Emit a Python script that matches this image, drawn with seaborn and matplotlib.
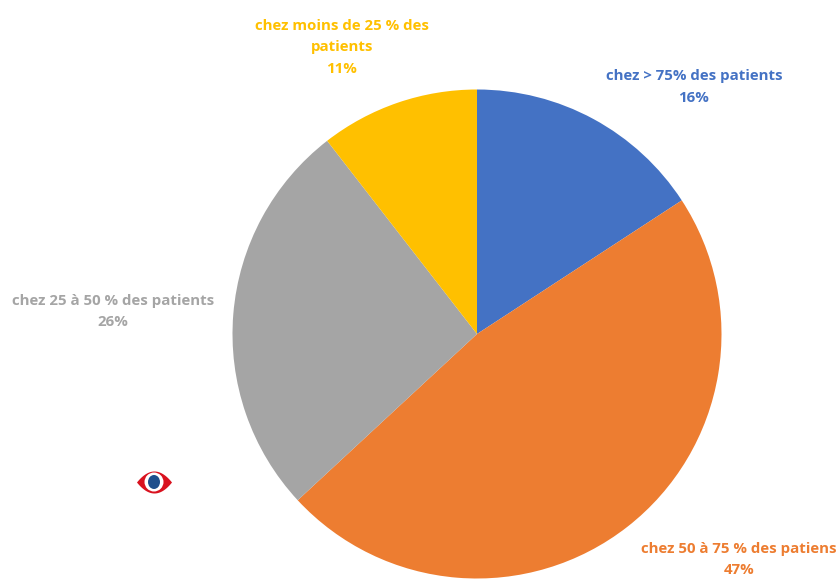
import numpy as np
import matplotlib.pyplot as plt
from matplotlib.patches import Ellipse
import seaborn as sns

labels = ["chez > 75% des patients", "chez 50 à 75 % des patiens",
          "chez 25 à 50 % des patients", "chez moins de 25 % des\npatients"]
# slice sizes as measured on the drawn pie, the printed labels are rounded
values = [15.8, 47.3, 26.4, 10.5]
pcts = ["16%", "47%", "26%", "11%"]
colors = ["#4472C4", "#ED7D31", "#A5A5A5", "#FFC000"]

sns.set_theme(style="white")
plt.rcParams["font.family"] = ["Open Sans", "DejaVu Sans"]

W, H = 840, 579
fig = plt.figure(figsize=(W / 100, H / 100), dpi=100)
ax = fig.add_axes([0, 0, 1, 1])

# the pie, pixel coords so it sits where the reference has it (y goes up here)
cx, cy, r = 477, H - 334, 244.5
ax.pie(values, colors=colors, startangle=90, counterclock=False, center=(cx, cy), radius=r,
       frame=True, wedgeprops=dict(linewidth=0))
ax.set_xlim(0, W)
ax.set_ylim(0, H)
ax.set_aspect("equal")
ax.axis("off")

label_pos = [(694, 87), (739, 559.5), (113, 311.5), (342, 47.5)]
for lab, p, c, (x, y) in zip(labels, pcts, colors, label_pos):
    ax.text(x, H - y, lab + "\n" + p, ha="center", va="center", color=c,
            fontsize=10.8, fontweight="bold", linespacing=1.7, clip_on=False)

# small eye icon
ex, ey = 154, H - 482
t = np.linspace(-17.5, 17.5, 60)
half = 11 * (1 - (t / 17.5) ** 2)
ax.fill_between(ex + t, ey - half, ey + half, color="#D9121F", linewidth=0)
ax.add_patch(Ellipse((ex, ey), 19, 19, fc="white", ec="none"))
ax.add_patch(Ellipse((ex, ey), 12, 14, fc="#1F4E8C", ec="none"))

fig.savefig("out.png", dpi=100)
